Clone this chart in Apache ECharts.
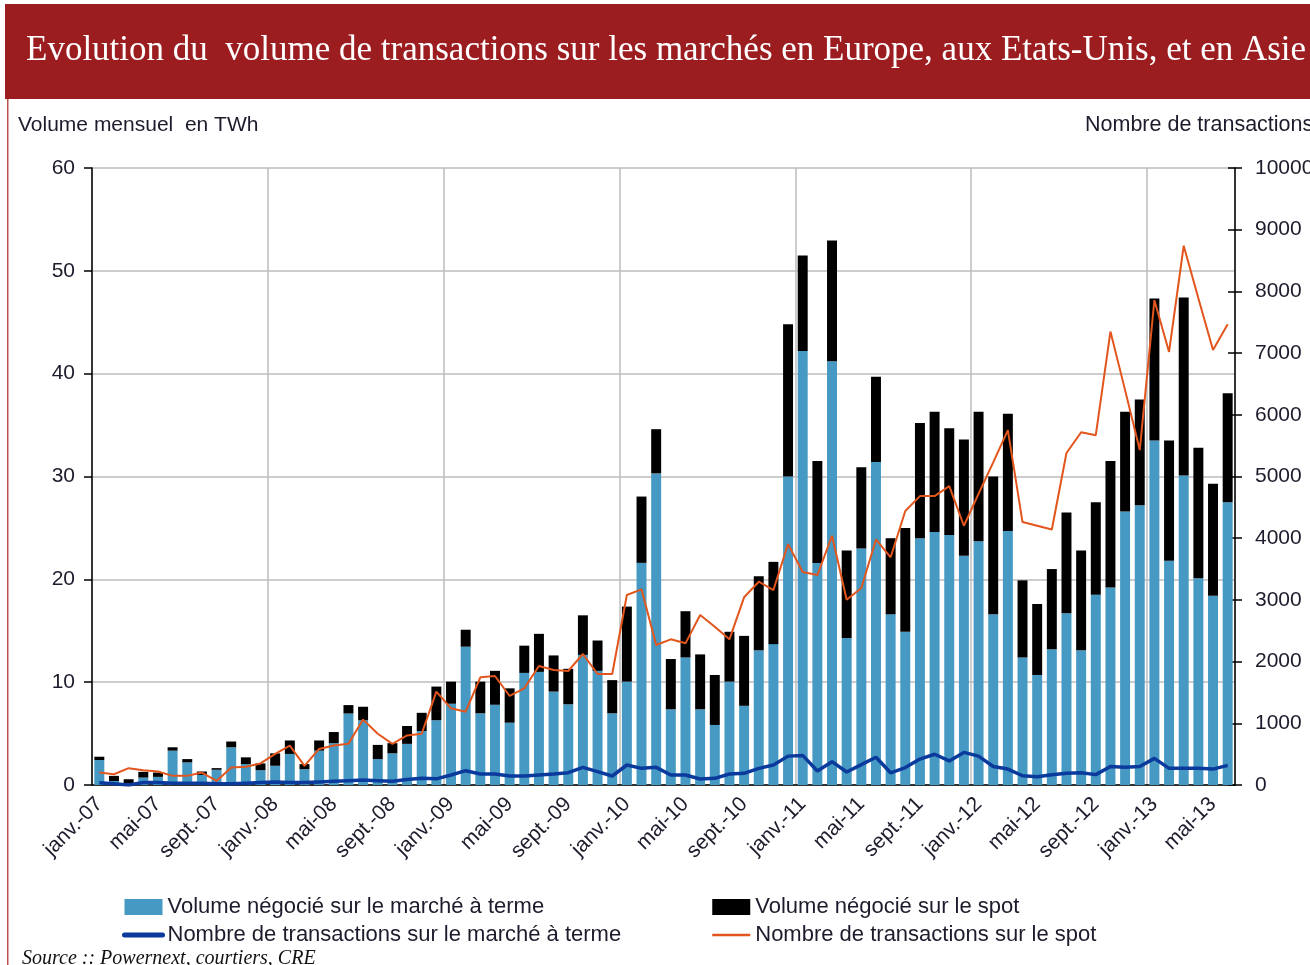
<!DOCTYPE html>
<html>
<head>
<meta charset="utf-8">
<script src="https://cdn.jsdelivr.net/npm/echarts@6/dist/echarts.min.js"></script>
<style>
  html, body { margin: 0; padding: 0; background: #fff; }
  #chart { width: 1310px; height: 965px; }
</style>
</head>
<body>
<div id="chart"></div>
<script>
// mois affichés sur l'axe (janv.-07 ... juin-13)
const monthNames = ["janv.", "févr.", "mars", "avr.", "mai", "juin", "juil.", "août", "sept.", "oct.", "nov.", "déc."];
const years = ["07", "08", "09", "10", "11", "12", "13"];
const lastMonthCount = 6; // 2013 s'arrête en juin

// Volume négocié sur le marché à terme (TWh)
const volumeTerme = [
  2.43, 0.39, 0.13, 0.72, 0.79, 3.34, 2.2, 0.98, 1.48, 3.67, 2.03, 1.44,
  1.87, 3.02, 1.54, 3.34, 4.07, 6.95, 6.3, 2.52, 3.08, 4.0, 5.25, 6.3,
  7.9, 13.45, 6.97, 7.8, 6.06, 10.9, 11.0, 9.08, 7.85, 12.65, 11.1, 6.97,
  10.05, 21.6, 30.3, 7.36, 12.4, 7.36, 5.84, 10.05, 7.7, 13.1, 13.7, 30.0,
  42.2, 21.6, 41.2, 14.3, 23.0, 31.4, 16.6, 14.9, 24.0, 24.6, 24.3, 22.3,
  23.7, 16.6, 24.7, 12.4, 10.7, 13.2, 16.7, 13.1, 18.5, 19.2, 26.6, 27.2,
  33.5, 21.8, 30.1, 20.1, 18.4, 27.5
];
// Volume négocié sur le spot (TWh)
const volumeSpot = [
  0.32, 0.5, 0.43, 0.56, 0.42, 0.33, 0.32, 0.33, 0.16, 0.56, 0.66, 0.66,
  1.21, 1.31, 0.49, 0.99, 1.08, 0.82, 1.31, 1.38, 0.99, 1.74, 1.77, 3.27,
  2.15, 1.65, 3.08, 3.3, 3.34, 2.65, 3.7, 3.52, 3.45, 3.85, 2.95, 3.23,
  7.3, 6.45, 4.3, 4.89, 4.5, 5.34, 4.86, 4.85, 6.8, 7.2, 8.0, 14.8,
  9.3, 9.9, 11.75, 8.5, 7.9, 8.3, 7.4, 10.1, 11.2, 11.7, 10.4, 11.3,
  12.6, 13.4, 11.4, 7.5, 6.9, 7.8, 9.8, 9.7, 9.0, 12.3, 9.7, 10.3,
  13.8, 11.7, 17.3, 12.7, 10.9, 10.6
];
// Nombre de transactions sur le marché à terme
const transTerme = [
  38, 20, 0, 40, 40, 30, 30, 30, 20, 20, 30, 40,
  50, 40, 40, 50, 60, 70, 80, 70, 60, 90, 108, 100,
  162, 232, 178, 178, 146, 146, 162, 178, 200, 286, 216, 146,
  324, 270, 286, 162, 162, 97, 108, 178, 189, 270, 324, 468,
  480, 228, 378, 210, 330, 450, 198, 282, 420, 498, 390, 528,
  468, 300, 258, 150, 132, 165, 192, 198, 168, 300, 288, 300,
  432, 270, 270, 270, 258, 318
];
// Nombre de transactions sur le spot
const transSpot = [
  202, 175, 273, 240, 219, 148, 148, 202, 66, 284, 295, 350,
  503, 639, 311, 585, 639, 667, 1060, 831, 667, 803, 831, 1514,
  1243, 1188, 1745, 1767, 1443, 1567, 1929, 1864, 1848, 2123, 1799, 1799,
  3079, 3171, 2269, 2361, 2296, 2755, 2566, 2361, 3042, 3295, 3160, 3904,
  3451, 3403, 4040, 3001, 3193, 3980, 3691, 4442, 4682, 4682, 4844, 4202,
  4720, 5230, 5750, 4262, 4202, 4140, 5381, 5717, 5669, 7349, 6400, 5429,
  7858, 7019, 8740, 7890, 7049, 7469
];

const categories = [];
years.forEach((y, i) => {
  const n = i === years.length - 1 ? lastMonthCount : 12;
  for (let m = 0; m < n; m++) {
    categories.push(monthNames[m] + "-" + y);
  }
});

const textColor = "#1c1c2c";
const fontFamily = "Liberation Sans, Arial, sans-serif";
const serifFont = '"Liberation Serif", "Times New Roman", serif';

const chart = echarts.init(document.getElementById("chart"));
const option = {
  animation: false,
  backgroundColor: "#fff",
  textStyle: { fontFamily: fontFamily },
  graphic: [
    {
      type: "rect",
      shape: { x: 5, y: 4, width: 1305, height: 95 },
      style: { fill: "#9c1d20" },
    },
    {
      type: "text",
      left: 26,
      top: 33,
      style: {
        text: "Evolution du  volume de transactions sur les marchés en Europe, aux Etats-Unis, et en Asie",
        fill: "#fff",
        font: "35px " + serifFont,
      },
    },
    {
      type: "rect",
      shape: { x: 7, y: 99, width: 1.5, height: 866 },
      style: { fill: "#c0504d" },
    },
    {
      type: "text",
      left: 18,
      top: 115,
      style: {
        text: "Volume mensuel  en TWh",
        fill: textColor,
        font: "21px " + fontFamily,
      },
    },
    {
      type: "text",
      left: 1085,
      top: 114,
      style: {
        text: "Nombre de transactions",
        fill: textColor,
        font: "21.5px " + fontFamily,
      },
    },
    {
      type: "text",
      left: 22,
      top: 949,
      style: {
        text: "Source :: Powernext, courtiers, CRE",
        fill: "#111",
        font: "italic 20px " + serifFont,
      },
    },
  ],
  grid: {
    left: 92,
    right: 75,
    top: 168,
    bottom: 180,
    outerBoundsMode: "none",
  },
  legend: [
    {
      orient: "vertical",
      left: 117,
      top: 891,
      itemWidth: 38,
      itemHeight: 16,
      itemGap: 6,
      textStyle: { fontSize: 22, color: textColor },
      data: [
        { name: "Volume négocié sur le marché à terme", icon: "rect" },
        {
          name: "Nombre de transactions sur le marché à terme",
          itemStyle: { color: "rgba(0,0,0,0)", borderWidth: 0 },
          lineStyle: { width: 5, cap: "round" },
        },
      ],
    },
    {
      orient: "vertical",
      left: 706,
      top: 891,
      itemWidth: 38,
      itemHeight: 16,
      itemGap: 6,
      textStyle: { fontSize: 22, color: textColor },
      data: [
        { name: "Volume négocié sur le spot", icon: "rect" },
        {
          name: "Nombre de transactions sur le spot",
          itemStyle: { color: "rgba(0,0,0,0)", borderWidth: 0 },
          lineStyle: { width: 2.5 },
        },
      ],
    },
  ],
  xAxis: {
    type: "category",
    data: categories,
    boundaryGap: true,
    axisLine: { lineStyle: { color: "#000", width: 1.5 } },
    axisTick: { interval: 3, length: 7, lineStyle: { color: "#000", width: 1.5 } },
    axisLabel: {
      interval: 3,
      rotate: 45,
      fontSize: 21,
      color: textColor,
      margin: 16,
    },
    splitLine: {
      show: true,
      interval: 11,
      lineStyle: { color: "#bcbcbc", width: 1.5 },
    },
  },
  yAxis: [
    {
      type: "value",
      min: 0,
      max: 60,
      interval: 10,
      position: "left",
      axisLine: { show: true, lineStyle: { color: "#000", width: 1.5 } },
      axisTick: { show: true, length: 8, lineStyle: { color: "#000", width: 1.5 } },
      axisLabel: { fontSize: 21, color: textColor, margin: 17 },
      splitLine: { lineStyle: { color: "#bcbcbc", width: 1.5 } },
    },
    {
      type: "value",
      min: 0,
      max: 10000,
      interval: 1000,
      position: "right",
      axisLine: { show: true, lineStyle: { color: "#000", width: 1.5 } },
      axisTick: { show: true, length: 7, lineStyle: { color: "#000", width: 1.5 } },
      axisLabel: { fontSize: 21, color: textColor, margin: 20, formatter: (v) => String(v) },
      splitLine: { show: false },
    },
    {
      // ticks vers l'intérieur pour l'axe de droite (ticks croisés)
      type: "value",
      min: 0,
      max: 10000,
      interval: 1000,
      position: "right",
      axisLine: { show: false },
      axisTick: { show: true, inside: true, length: 7, lineStyle: { color: "#000", width: 1.5 } },
      axisLabel: { show: false },
      splitLine: { show: false },
    },
  ],
  series: [
    {
      name: "Volume négocié sur le marché à terme",
      type: "bar",
      stack: "volume",
      barWidth: "68%",
      itemStyle: { color: "#4599c3" },
      data: volumeTerme,
    },
    {
      name: "Volume négocié sur le spot",
      type: "bar",
      stack: "volume",
      barWidth: "68%",
      itemStyle: { color: "#000" },
      data: volumeSpot,
    },
    {
      name: "Nombre de transactions sur le marché à terme",
      type: "line",
      yAxisIndex: 1,
      symbol: "none",
      z: 5,
      itemStyle: { color: "#0a3a9c" },
      lineStyle: { color: "#0a3a9c", width: 3.5 },
      data: transTerme,
    },
    {
      name: "Nombre de transactions sur le spot",
      type: "line",
      yAxisIndex: 1,
      symbol: "none",
      z: 6,
      itemStyle: { color: "#e2561e" },
      lineStyle: { color: "#e2561e", width: 2 },
      data: transSpot,
    },
  ],
};
chart.setOption(option);
</script>
</body>
</html>
